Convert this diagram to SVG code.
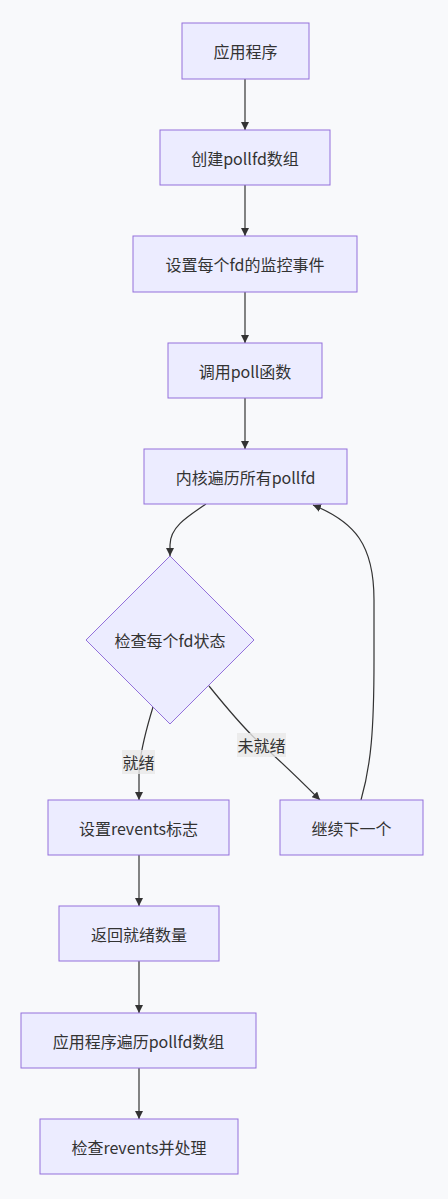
<svg xmlns="http://www.w3.org/2000/svg" width="448" height="1199" viewBox="0 0 448 1199">
<style>
.node rect, .node polygon { fill: #ECECFF; stroke: #9370DB; stroke-width: 1; }
.node text { font-family: "Noto Sans CJK SC", "Noto Sans", sans-serif; font-size: 16px; fill: #333333; text-anchor: middle; dominant-baseline: central; }
.edge { fill: none; stroke: #333333; stroke-width: 1.2; }
.lbl rect { fill: #E8E8E8; fill-opacity: 0.8; }
.lbl text { font-family: "Noto Sans CJK SC", "Noto Sans", sans-serif; font-size: 16px; fill: #333333; text-anchor: middle; dominant-baseline: central; }
</style>
<defs>
<marker id="arr" viewBox="0 0 10 10" refX="10" refY="5" markerWidth="8" markerHeight="8" orient="auto" markerUnits="userSpaceOnUse">
<path d="M0,0 L10,5 L0,10 z" fill="#333333"/>
</marker>
</defs>
<rect width="448" height="1199" fill="#F8F9FB"/>
<g id="connectors">
<path class="edge" d="M245,79 L245,130" marker-end="url(#arr)"/>
<path class="edge" d="M245,185 L245,236" marker-end="url(#arr)"/>
<path class="edge" d="M245,292 L245,343" marker-end="url(#arr)"/>
<path class="edge" d="M245,398 L245,449" marker-end="url(#arr)"/>
<path class="edge" d="M206,504 C185,518 170,528 170,545 L170,556" marker-end="url(#arr)"/>
<path class="edge" d="M153,707 C146,730 139,755 139,775 L139,800" marker-end="url(#arr)"/>
<path class="edge" d="M209,686 C230,712 245,730 262,745 C285,765 305,785 320,800" marker-end="url(#arr)"/>
<path class="edge" d="M361,800 C371,765 374,730 374,660 L374,600 C374,545 355,522 313,505" marker-end="url(#arr)"/>
<path class="edge" d="M139,855 L139,906" marker-end="url(#arr)"/>
<path class="edge" d="M139,961 L139,1013" marker-end="url(#arr)"/>
<path class="edge" d="M139,1068 L139,1119" marker-end="url(#arr)"/>
<g class="lbl"><rect x="122" y="750" width="33" height="24"/><text x="138.5" y="762">就绪</text></g>
<g class="lbl"><rect x="237" y="733" width="49" height="24"/><text x="261.5" y="745">未就绪</text></g>
</g>
<g id="n1" class="node"><rect x="182" y="23" width="127" height="56"/><text x="245.5" y="51">应用程序</text></g>
<g id="n2" class="node"><rect x="160" y="130" width="170" height="55"/><text x="245" y="157.5">创建pollfd数组</text></g>
<g id="n3" class="node"><rect x="133" y="236" width="224" height="56"/><text x="245" y="264">设置每个fd的监控事件</text></g>
<g id="n4" class="node"><rect x="168" y="343" width="154" height="55"/><text x="245" y="370.5">调用poll函数</text></g>
<g id="n5" class="node"><rect x="144" y="449" width="203" height="55"/><text x="245.5" y="476.5">内核遍历所有pollfd</text></g>
<g id="n6" class="node"><polygon points="170,556 254,640 170,724 86,640"/><text x="170" y="640">检查每个fd状态</text></g>
<g id="n7" class="node"><rect x="48" y="800" width="181" height="55"/><text x="138.5" y="827.5">设置revents标志</text></g>
<g id="n8" class="node"><rect x="280" y="800" width="143" height="55"/><text x="351.5" y="827.5">继续下一个</text></g>
<g id="n9" class="node"><rect x="59" y="906" width="160" height="55"/><text x="139" y="933.5">返回就绪数量</text></g>
<g id="n10" class="node"><rect x="21" y="1013" width="235" height="55"/><text x="138.5" y="1040.5">应用程序遍历pollfd数组</text></g>
<g id="n11" class="node"><rect x="40" y="1119" width="198" height="55"/><text x="139" y="1146.5">检查revents并处理</text></g>
</svg>
